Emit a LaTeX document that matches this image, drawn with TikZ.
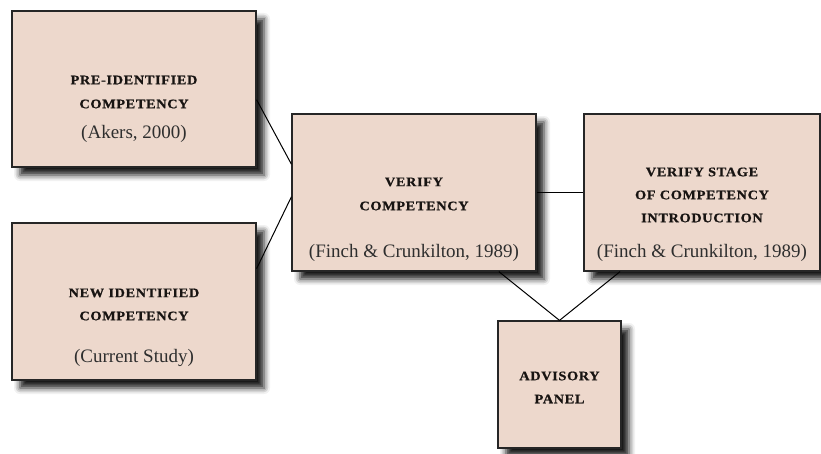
\documentclass[tikz,border=0pt]{standalone}
\usepackage{fontspec}
\setmainfont{Liberation Serif}
\newfontfamily\headfont[LetterSpace=5,FakeStretch=1.1,FakeBold=0.8]{Liberation Serif}
\usetikzlibrary{shadows.blur}
\definecolor{boxfill}{RGB}{237,216,204}
\definecolor{txt}{RGB}{24,20,18}
\begin{document}
\begin{tikzpicture}[x=1pt,y=-1pt,
  box/.style={draw=black!85, line width=1.2pt, fill=boxfill, inner sep=0pt,
    blur shadow={shadow xshift=8pt, shadow yshift=-8pt, shadow blur radius=6pt, shadow opacity=90}},
  head/.style={font=\headfont\bfseries\fontsize{13}{15}\selectfont, text=txt, inner sep=0pt, anchor=center},
  cite/.style={font=\fontsize{19}{22}\selectfont, text=black!82, inner sep=0pt, anchor=center},
  link/.style={draw=black, line width=1pt}]
\useasboundingbox (0,0) rectangle (821,454);
% boxes
\node[box, minimum width=244pt, minimum height=156pt] (b1) at (134,89) {};
\node[box, minimum width=244pt, minimum height=157pt] (b2) at (134,301.5) {};
\node[box, minimum width=244pt, minimum height=157pt] (b3) at (414,192.5) {};
\node[box, minimum width=236pt, minimum height=157pt] (b4) at (702,192.5) {};
\node[box, minimum width=123pt, minimum height=127pt] (b5) at (559.5,384.5) {};
% connectors
\draw[link] (b1.-5) -- (b3.167.7);
\draw[link] (b2.15.8) -- (b3.-178);
\draw[link] (b3.east) -- (b4.west);
\draw[link] (b3.-43) -- (b5.north);
\draw[link] (b4.-136.3) -- (b5.north);
% texts
\node[head] (t1a) at (134,80) {PRE-IDENTIFIED};
\node[head] (t1b) at (134,104) {COMPETENCY};
\node[cite] (t1c) at (134,134) {(Akers, 2000)};
\node[head] (t2a) at (134,293) {NEW IDENTIFIED};
\node[head] (t2b) at (134,316) {COMPETENCY};
\node[cite] (t2c) at (134,358) {(Current Study)};
\node[head] (t3a) at (414,182) {VERIFY};
\node[head] (t3b) at (414,206) {COMPETENCY};
\node[cite] (t3c) at (414,253) {(Finch \& Crunkilton, 1989)};
\node[head] (t4a) at (702,172) {VERIFY STAGE};
\node[head] (t4b) at (702,195) {OF COMPETENCY};
\node[head] (t4c) at (702,218) {INTRODUCTION};
\node[cite] (t4d) at (702,253) {(Finch \& Crunkilton, 1989)};
\node[head] (t5a) at (559.5,376) {ADVISORY};
\node[head] (t5b) at (559.5,399) {PANEL};
\end{tikzpicture}
\end{document}
